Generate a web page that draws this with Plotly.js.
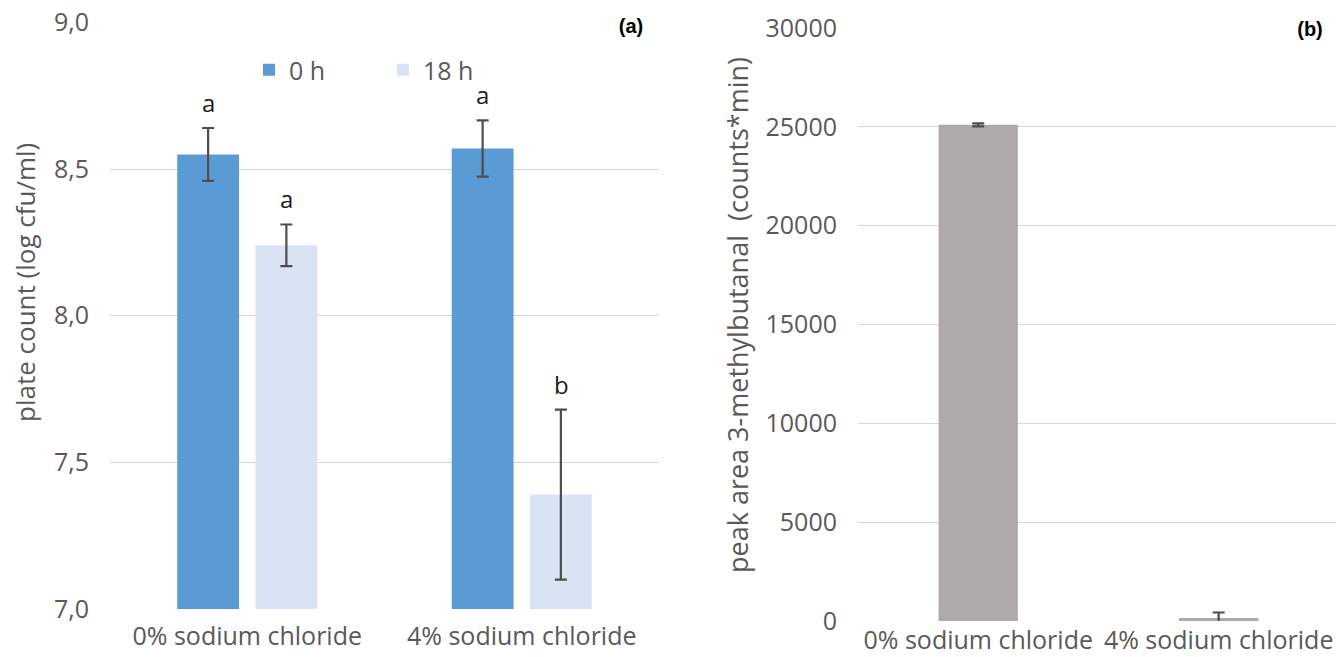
<!DOCTYPE html>
<html>
<head>
<meta charset="utf-8">
<script src="https://cdn.plot.ly/plotly-3.0.1.min.js"></script>
<style>html,body{margin:0;padding:0;background:#fff;}#chart{width:1336px;height:657px;}</style>
</head>
<body>
<div id="chart"></div>
<script>
// ---- data ----
const categories = ['0% sodium chloride', '4% sodium chloride'];
const seriesNames = ['0 h', '18 h'];
const plateCount0h = [8.55, 8.57];
const plateCount0hErr = [0.09, 0.096];
const plateCount18h = [8.24, 7.39];
const plateCount18hErr = [0.071, 0.29];
const letters0h = ['a', 'a'];
const letters18h = ['a', 'b'];
const peakArea = [25100, 150];
const peakAreaErr = [80, 280];
const panelLabels = ['(a)', '(b)'];
const leftYTitle = 'plate count (log cfu/ml)';
const rightYTitle = 'peak area 3-methylbutanal\u00a0 (counts*min)';

const W = 1336, H = 657;
const FONT = 'Open Sans, Liberation Sans, Arial, sans-serif';
const TXT = '#595959';
const ERR = '#4d4d4d';

const traces = [
  {
    type: 'bar', name: seriesNames[0], x: categories, y: plateCount0h,
    xaxis: 'x', yaxis: 'y',
    marker: {color: '#5B9BD5'},
    error_y: {type: 'data', array: plateCount0hErr, visible: true, color: ERR, thickness: 2.2, width: 6}
  },
  {
    type: 'bar', name: seriesNames[1], x: categories, y: plateCount18h,
    xaxis: 'x', yaxis: 'y',
    marker: {color: '#DAE3F3'},
    error_y: {type: 'data', array: plateCount18hErr, visible: true, color: ERR, thickness: 2.2, width: 6}
  },
  {
    type: 'bar', name: 'peak area', x: categories, y: peakArea,
    xaxis: 'x2', yaxis: 'y2', showlegend: false, width: 0.33,
    marker: {color: '#ADAAA9'},
    error_y: {type: 'data', array: peakAreaErr, visible: true, color: ERR, thickness: 2.2, width: 6}
  }
];

// significance letters, placed from the data
const annotations = [];
const groupOffset = 0.143;
categories.forEach((c, i) => {
  annotations.push({
    x: i - groupOffset, y: plateCount0h[i] + plateCount0hErr[i], xref: 'x', yref: 'y',
    text: letters0h[i], showarrow: false, yanchor: 'bottom', yshift: 7,
    font: {family: FONT, size: 24, color: '#1a1a1a'}
  });
  annotations.push({
    x: i + groupOffset, y: plateCount18h[i] + plateCount18hErr[i], xref: 'x', yref: 'y',
    text: letters18h[i], showarrow: false, yanchor: 'bottom', yshift: 7,
    font: {family: FONT, size: 24, color: '#1a1a1a'}
  });
});
annotations.push({
  x: 631 / W, y: 1 - 26 / H, xref: 'paper', yref: 'paper', text: '<b>' + panelLabels[0] + '</b>',
  showarrow: false, bgcolor: '#ffffff', width: 62, height: 26, xanchor: 'center', yanchor: 'middle',
  font: {family: 'Liberation Sans, Arial, sans-serif', size: 20, color: '#000'}
});
annotations.push({
  x: 1310 / W, y: 1 - 29 / H, xref: 'paper', yref: 'paper', text: '<b>' + panelLabels[1] + '</b>',
  showarrow: false, bgcolor: '#ffffff', width: 56, height: 26, xanchor: 'center', yanchor: 'middle',
  font: {family: 'Liberation Sans, Arial, sans-serif', size: 20, color: '#000'}
});
// axis titles
annotations.push({
  x: 25 / W, y: 1 - 283 / H, xref: 'paper', yref: 'paper', text: leftYTitle, textangle: -90,
  showarrow: false, xanchor: 'center', yanchor: 'middle',
  font: {family: FONT, size: 26, color: TXT}
});
annotations.push({
  x: 738 / W, y: 1 - 315 / H, xref: 'paper', yref: 'paper', text: rightYTitle, textangle: -90,
  showarrow: false, xanchor: 'center', yanchor: 'middle',
  font: {family: FONT, size: 27, color: TXT}
});

const commonX = {
  type: 'category', showgrid: false, zeroline: false, showline: false, ticks: '',
  tickfont: {family: FONT, size: 25, color: TXT}, ticklabelstandoff: 10, fixedrange: true
};
const commonY = {
  showgrid: true, gridcolor: '#D6D6D6', gridwidth: 1, zeroline: false, showline: false, ticks: '',
  tickfont: {family: FONT, size: 25, color: TXT}, ticklabelstandoff: 20, fixedrange: true
};

const layout = {
  width: W, height: H, autosize: false,
  margin: {l: 0, r: 0, t: 0, b: 0},
  paper_bgcolor: '#fff', plot_bgcolor: 'rgba(0,0,0,0)',
  separators: ',.',
  font: {family: FONT, color: TXT},
  barmode: 'group', bargap: 0.43, bargroupgap: 0.21,
  showlegend: true,
  legend: {
    orientation: 'h', x: 249 / W, y: 1 - 70 / H, xanchor: 'left', yanchor: 'middle',
    font: {family: FONT, size: 25, color: TXT}, bgcolor: 'rgba(0,0,0,0)',
    entrywidth: 89, entrywidthmode: 'pixels', tracegroupgap: 0
  },
  xaxis: Object.assign({}, commonX, {domain: [110 / W, 659 / W], range: [-0.5, 1.5], anchor: 'y'}),
  yaxis: Object.assign({}, commonY, {
    domain: [1 - 609 / H, 1 - 22.4 / H], range: [7, 9], dtick: 0.5, tick0: 7, tickformat: '.1f', anchor: 'x'
  }),
  xaxis2: Object.assign({}, commonX, {domain: [858 / W, 1], range: [-0.5, 1.488], anchor: 'y2', ticklabelstandoff: 2}),
  yaxis2: Object.assign({}, commonY, {
    domain: [1 - 621 / H, 1 - 28 / H], range: [0, 30000], dtick: 5000, tick0: 0, tickformat: 'd', anchor: 'x2'
  }),
  annotations: annotations
};

Plotly.newPlot('chart', traces, layout, {displayModeBar: false, staticPlot: true});
</script>
</body>
</html>
